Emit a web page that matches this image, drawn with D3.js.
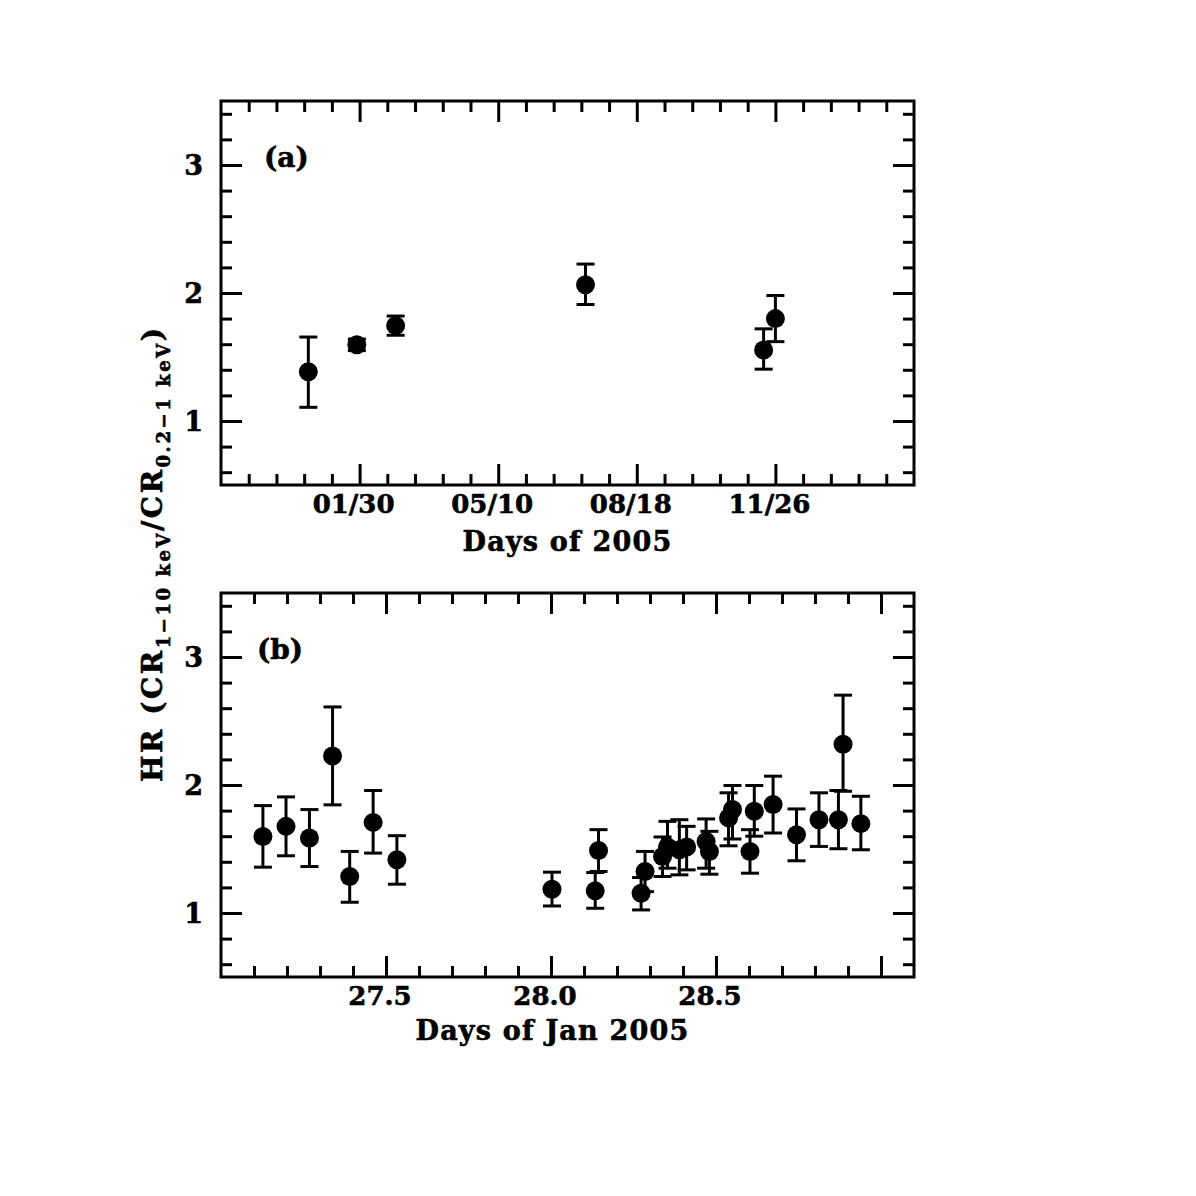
<!DOCTYPE html>
<html>
<head>
<meta charset="utf-8">
<script src="https://cdn.jsdelivr.net/npm/d3@7"></script>
<style>
  body { margin: 0; background: #fff; }
  svg text { font-family: "DejaVu Serif", serif; font-weight: bold; fill: #000; stroke: #000; stroke-width: 0.6px; }
</style>
</head>
<body>
<svg id="chart" width="1196" height="1196"></svg>
<script>
// Panel (a): days of 2005 (day number), hardness ratio and error bar ends
const daysA = [-7, 28, 56, 193, 321.5, 330];
const hrA   = [1.385, 1.595, 1.745, 2.065, 1.555, 1.80];
const hrLoA = [1.107, 1.55, 1.67, 1.91, 1.405, 1.62];
const hrHiA = [1.656, 1.64, 1.82, 2.226, 1.72, 1.98];
const tickDaysA = [30, 130, 230, 330];
const tickLabelsA = ["01/30", "05/10", "08/18", "11/26"];

// Panel (b): days of Jan 2005
const daysB = [27.127, 27.197, 27.268, 27.338, 27.390, 27.461, 27.533,
               28.003, 28.134, 28.144, 28.273, 28.285, 28.338, 28.353,
               28.389, 28.411, 28.470, 28.480, 28.538, 28.550, 28.603,
               28.616, 28.673, 28.744, 28.812, 28.871, 28.885, 28.939];
const hrB   = [1.598, 1.677, 1.586, 2.226, 1.285, 1.708, 1.416,
               1.186, 1.173, 1.489, 1.154, 1.324, 1.442, 1.515,
               1.494, 1.515, 1.559, 1.481, 1.743, 1.808, 1.481,
               1.795, 1.847, 1.612, 1.729, 1.729, 2.318, 1.698];
const hrLoB = [1.358, 1.447, 1.363, 1.845, 1.084, 1.468, 1.225,
               1.055, 1.037, 1.324, 1.024, 1.167, 1.285, 1.350,
               1.298, 1.337, 1.350, 1.303, 1.525, 1.578, 1.311,
               1.600, 1.625, 1.408, 1.520, 1.502, 1.951, 1.494];
const hrHiB = [1.839, 1.907, 1.808, 2.610, 1.481, 1.957, 1.604,
               1.319, 1.316, 1.651, 1.277, 1.481, 1.594, 1.716,
               1.729, 1.677, 1.735, 1.638, 1.939, 1.996, 1.651,
               1.996, 2.069, 1.813, 1.939, 1.957, 2.702, 1.912];
const tickDaysB = [27.5, 28.0, 28.5];
const tickLabelsB = ["27.5", "28.0", "28.5"];

const yTicks = [1, 2, 3];
const yTickLabels = ["1", "2", "3"];

const svg = d3.select("#chart");
svg.append("rect").attr("width", 1196).attr("height", 1196).attr("fill", "#fff");

const left = 221, width = 693, height = 384;
const majorLen = 21, minorLen = 11;

function drawPanel(o) {
    const g = svg.append("g").attr("transform", `translate(${left},${o.top})`);

    const x = d3.scaleLinear().domain(o.xDomain).range([0, width]);
    const y = d3.scaleLinear().domain([0.5, 3.5]).range([height, 0]);

    // tick marks on all four sides, pointing inward
    const yMinor = d3.range(0.6, 3.45, 0.2).filter(v => Math.abs(v - Math.round(v)) > 0.01);
    const tickSets = [
        [d3.axisBottom(x).tickValues(o.xMinor), `translate(0,${height})`, minorLen],
        [d3.axisBottom(x).tickValues(o.xMajor), `translate(0,${height})`, majorLen],
        [d3.axisTop(x).tickValues(o.xMinor), null, minorLen],
        [d3.axisTop(x).tickValues(o.xMajor), null, majorLen],
        [d3.axisLeft(y).tickValues(yMinor), null, minorLen],
        [d3.axisLeft(y).tickValues(yTicks), null, majorLen],
        [d3.axisRight(y).tickValues(yMinor), `translate(${width},0)`, minorLen],
        [d3.axisRight(y).tickValues(yTicks), `translate(${width},0)`, majorLen]
    ];
    tickSets.forEach(([axis, tr, len]) => {
        const a = g.append("g").call(axis.tickSize(-len).tickFormat(""));
        if (tr) a.attr("transform", tr);
        a.select(".domain").remove();
        a.selectAll("line").attr("stroke", "#000").attr("stroke-width", 3);
    });

    // frame
    g.append("rect")
        .attr("width", width).attr("height", height)
        .attr("fill", "none").attr("stroke", "#000").attr("stroke-width", 3);

    // tick labels
    g.selectAll(".xlab").data(o.xLabelVals).enter().append("text")
        .attr("x", (d) => x(d) - 6)
        .attr("y", height + 28)
        .attr("text-anchor", "middle")
        .attr("font-size", 26)
        .text((d, i) => o.xLabels[i]);

    g.selectAll(".ylab").data(yTicks).enter().append("text")
        .attr("x", -18)
        .attr("y", (d) => y(d) + 10)
        .attr("text-anchor", "end")
        .attr("font-size", 27)
        .text((d, i) => yTickLabels[i]);

    // axis title
    g.append("text")
        .attr("x", o.titleX)
        .attr("y", height + o.titleDy)
        .attr("text-anchor", "middle")
        .attr("font-size", 27)
        .attr("letter-spacing", 1.2)
        .text(o.title);

    // panel tag
    g.append("text")
        .attr("x", o.tagX).attr("y", 66)
        .attr("font-size", 28)
        .text(o.tag);

    // error bars and points
    const pts = o.days.map((d, i) => ({ d, v: o.hr[i], lo: o.lo[i], hi: o.hi[i] }));
    const eb = g.append("g").attr("stroke", "#000").attr("stroke-width", 3);
    eb.selectAll(".bar").data(pts).enter().append("line")
        .attr("x1", (p) => x(p.d)).attr("x2", (p) => x(p.d))
        .attr("y1", (p) => y(p.lo)).attr("y2", (p) => y(p.hi));
    eb.selectAll(".capHi").data(pts).enter().append("line")
        .attr("x1", (p) => x(p.d) - 9).attr("x2", (p) => x(p.d) + 9)
        .attr("y1", (p) => y(p.hi)).attr("y2", (p) => y(p.hi));
    eb.selectAll(".capLo").data(pts).enter().append("line")
        .attr("x1", (p) => x(p.d) - 9).attr("x2", (p) => x(p.d) + 9)
        .attr("y1", (p) => y(p.lo)).attr("y2", (p) => y(p.lo));
    g.selectAll(".pt").data(pts).enter().append("circle")
        .attr("cx", (p) => x(p.d)).attr("cy", (p) => y(p.v))
        .attr("r", 9.5).attr("fill", "#000");
}

drawPanel({
    top: 101,
    xDomain: [-70, 430],
    xMinor: d3.range(-50, 430, 20).filter(v => !tickDaysA.includes(v)),
    xMajor: tickDaysA,
    xLabelVals: tickDaysA, xLabels: tickLabelsA,
    title: "Days of 2005", titleX: width / 2, titleDy: 66,
    tag: "(a)", tagX: 43,
    days: daysA, hr: hrA, lo: hrLoA, hi: hrHiA
});

drawPanel({
    top: 593,
    xDomain: [27.0, 29.1],
    xMinor: d3.range(27.1, 29.05, 0.1).filter(v => Math.abs(v * 2 - Math.round(v * 2)) > 0.01),
    xMajor: [27.5, 28.0, 28.5, 29.0],
    xLabelVals: tickDaysB, xLabels: tickLabelsB,
    title: "Days of Jan 2005", titleX: width / 2 - 15, titleDy: 63,
    tag: "(b)", tagX: 36,
    days: daysB, hr: hrB, lo: hrLoB, hi: hrHiB
});

// shared y-axis title
const yt = svg.append("text")
    .attr("transform", "translate(162,555) rotate(-90)")
    .attr("text-anchor", "middle")
    .attr("font-size", 28)
    .attr("textLength", 454)
    .attr("lengthAdjust", "spacing");
yt.append("tspan").text("HR (CR");
yt.append("tspan").attr("dy", 8).attr("font-size", 18).text("1\u221210 keV");
yt.append("tspan").attr("dy", -8).text("/CR");
yt.append("tspan").attr("dy", 8).attr("font-size", 18).text("0.2\u22121 keV");
yt.append("tspan").attr("dy", -8).text(")");
</script>
</body>
</html>
